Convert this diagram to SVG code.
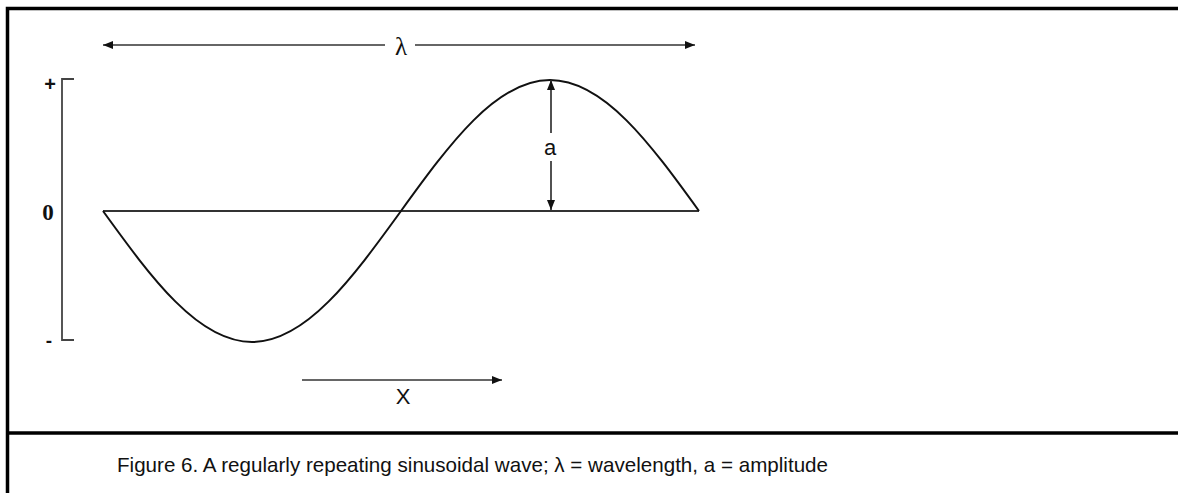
<svg xmlns="http://www.w3.org/2000/svg" width="1178" height="493" viewBox="0 0 1178 493">
<style>
.frame{fill:none;stroke:#000;stroke-width:3.5}
.wave{fill:none;stroke:#111;stroke-width:2}
.axis{fill:none;stroke:#444;stroke-width:1.8}
.arr{fill:none;stroke:#333;stroke-width:1.7}
.sans{font-family:"Liberation Sans",Arial,sans-serif;fill:#111}
.serif{font-family:"Liberation Serif","Times New Roman",serif;fill:#111}
</style>
<defs>
<marker id="ah" viewBox="0 0 10 8" refX="10" refY="4" markerWidth="11" markerHeight="8" markerUnits="userSpaceOnUse" orient="auto-start-reverse">
<path d="M0,0 L10,4 L0,8 Z" fill="#111"/>
</marker>
</defs>
<rect class="frame" x="7.5" y="8.5" width="1180" height="500"/>
<line class="frame" x1="7.5" y1="433" x2="1178" y2="433"/>
<g id="wave">
<line x1="103" y1="211" x2="699" y2="211" stroke="#333" stroke-width="1.8"/>
<path class="wave" d="M103,211 C151.6,278.1 198.1,342 252,342 C305.9,342 352.4,278.1 401,211 C449.6,143.9 496.1,80 550,80 C603.9,80 650.4,143.9 699,211"/>
</g>
<g id="axis">
<path class="axis" d="M74,79 H62 V340 H74"/>
<text class="sans" x="50" y="91" font-size="20" font-weight="bold" text-anchor="middle">+</text>
<text class="serif" x="48" y="220" font-size="23" font-weight="bold" text-anchor="middle">0</text>
<text class="sans" x="49" y="347" font-size="19" font-weight="bold" text-anchor="middle">-</text>
</g>
<g id="connectors">
<line class="arr" x1="385" y1="45" x2="103" y2="45" marker-end="url(#ah)"/>
<line class="arr" x1="415" y1="45" x2="695" y2="45" marker-end="url(#ah)"/>
<line class="arr" x1="551" y1="133" x2="551" y2="80" marker-end="url(#ah)"/>
<line class="arr" x1="551" y1="161" x2="551" y2="210" marker-end="url(#ah)"/>
<line class="arr" x1="302" y1="380" x2="502" y2="380" marker-end="url(#ah)"/>
</g>
<g id="labels">
<text class="serif" x="401" y="55" font-size="25" text-anchor="middle">λ</text>
<text class="sans" x="550" y="155" font-size="22" text-anchor="middle">a</text>
<text class="sans" x="403" y="404" font-size="22" text-anchor="middle">X</text>
</g>
<g id="caption">
<text class="sans" x="117" y="472" font-size="21" textLength="711" lengthAdjust="spacingAndGlyphs">Figure 6. A regularly repeating sinusoidal wave; λ = wavelength, a = amplitude</text>
</g>
</svg>
